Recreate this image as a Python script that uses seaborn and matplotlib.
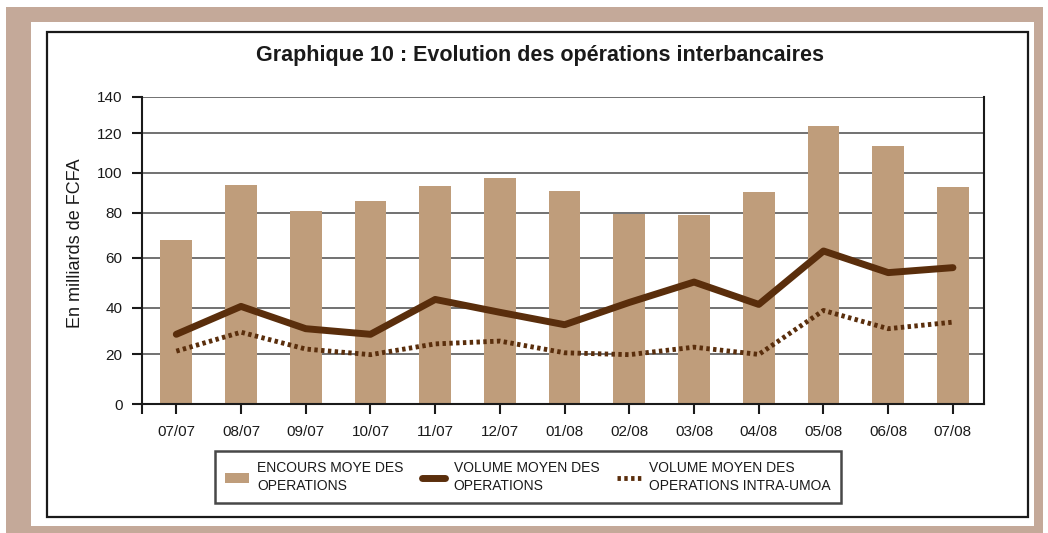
import numpy as np
import pandas as pd
import seaborn as sns
import matplotlib.pyplot as plt
from matplotlib.patches import Rectangle, Patch
from matplotlib.lines import Line2D

months = ["07/07", "08/07", "09/07", "10/07", "11/07", "12/07", "01/08",
          "02/08", "03/08", "04/08", "05/08", "06/08", "07/08"]
encours = [68, 94, 81, 86, 93.4, 97.4, 91, 79.7, 79, 90.4, 124, 113.6, 92.9]
volume = [28.6, 40.5, 31, 28.6, 43.3, 38, 32.7, 42.1, 50.3, 41.3, 63.1, 54.1, 56.1]
volume_umoa = [21.4, 29.5, 22.3, 19.9, 24.5, 25.7, 20.7, 19.9, 23.1, 20, 38.8, 31, 33.8]

y_ticks = [0, 20, 40, 60, 80, 100, 120, 140]
# the scanned axis is not evenly spaced: height (px) of each tick above the zero line
tick_heights = [0, 49.5, 96.2, 145.8, 190.8, 230.8, 270.2, 306.5]

bar_color = "#bf9d7b"
line_color = "#5a2e0c"
border_color = "#c4a999"

df = pd.DataFrame({
    "mois": months,
    "pos": range(len(months)),
    "encours": encours,
    "volume": volume,
    "volume_umoa": volume_umoa,
})

sns.set_style("white")
plt.rcParams["font.family"] = ["Liberation Sans", "DejaVu Sans"]

fig = plt.figure(figsize=(10.48, 5.33), dpi=100)

# page decoration: tan border, white card, black frame
fig.patches.append(Rectangle((6 / 1048, 0), 1037 / 1048, 526 / 533, transform=fig.transFigure,
                             facecolor=border_color, edgecolor="none", zorder=-3))
fig.patches.append(Rectangle((31 / 1048, 7 / 533), 1003 / 1048, 504 / 533, transform=fig.transFigure,
                             facecolor="white", edgecolor="none", zorder=-2))
fig.patches.append(Rectangle((47 / 1048, 16 / 533), 981 / 1048, 485 / 533, transform=fig.transFigure,
                             facecolor="none", edgecolor="#1a1a1a", lw=1.6, zorder=-1))

ax = fig.add_axes([142 / 1048, 1 - 404 / 533, (984 - 142) / 1048, (404 - 97) / 533])
ax.patch.set_alpha(0)

sns.barplot(data=df, x="mois", y="encours", color=bar_color, saturation=1,
            width=0.49, ax=ax, edgecolor="none", zorder=2)
sns.lineplot(data=df, x="pos", y="volume", color=line_color, lw=5, sort=False,
             ax=ax, zorder=4)
sns.lineplot(data=df, x="pos", y="volume_umoa", color=line_color, lw=3.5, sort=False,
             ax=ax, zorder=3, linestyle=(0, (0.7, 0.7)))

ax.set_yscale("function", functions=(lambda v: np.interp(v, y_ticks, tick_heights),
                                     lambda h: np.interp(h, tick_heights, y_ticks)))
ax.set_ylim(0, 140)
ax.set_yticks(y_ticks)
ax.set_yticklabels([str(t) for t in y_ticks])
ax.set_xlim(-0.53, len(months) - 0.52)
ax.set_xticks(range(len(months)))
ax.set_xticklabels(months)
ax.set_xticks([-0.53], minor=True)
ax.set_xlabel("")
ax.set_ylabel("")

ax.set_axisbelow(True)
ax.yaxis.grid(True, color="#4a4a4a", lw=1.1)
ax.xaxis.grid(False)
for side in ["left", "bottom", "right"]:
    ax.spines[side].set_visible(True)
    ax.spines[side].set_color("#1a1a1a")
    ax.spines[side].set_linewidth(1.5)
ax.spines["top"].set_visible(False)

ax.tick_params(axis="both", which="both", direction="out", length=7, width=1.5,
               color="#1a1a1a", labelsize=11, labelcolor="#1a1a1a")
ax.tick_params(axis="x", which="both", bottom=True, pad=8)
ax.tick_params(axis="y", left=True, pad=7)

fig.text(0.515, 1 - 55 / 533, "Graphique 10 : Evolution des opérations interbancaires",
         ha="center", va="center", fontsize=15.5, fontweight="bold", color="#1a1a1a")
fig.text(75 / 1048, 1 - 243 / 533, "En milliards de FCFA", rotation=90,
         ha="center", va="center", fontsize=13, color="#1a1a1a")

handles = [
    Patch(facecolor=bar_color, edgecolor="none"),
    Line2D([], [], color=line_color, lw=5),
    Line2D([], [], color=line_color, lw=3.5, linestyle=(0, (0.7, 0.7))),
]
labels = ["ENCOURS MOYE DES\nOPERATIONS", "VOLUME MOYEN DES\nOPERATIONS",
          "VOLUME MOYEN DES\nOPERATIONS INTRA-UMOA"]
leg = fig.legend(handles, labels, ncol=3, loc="center", bbox_to_anchor=(528 / 1048, 1 - 477 / 533),
                 frameon=True, fancybox=False, edgecolor="#1a1a1a", fontsize=10,
                 handlelength=1.7, handletextpad=0.6, columnspacing=1.3, borderpad=0.75,
                 labelspacing=0.2)
leg.get_frame().set_linewidth(1.8)
for t in leg.get_texts():
    t.set_color("#1a1a1a")
    t.set_linespacing(1.3)

fig.savefig("out.png", dpi=100)
